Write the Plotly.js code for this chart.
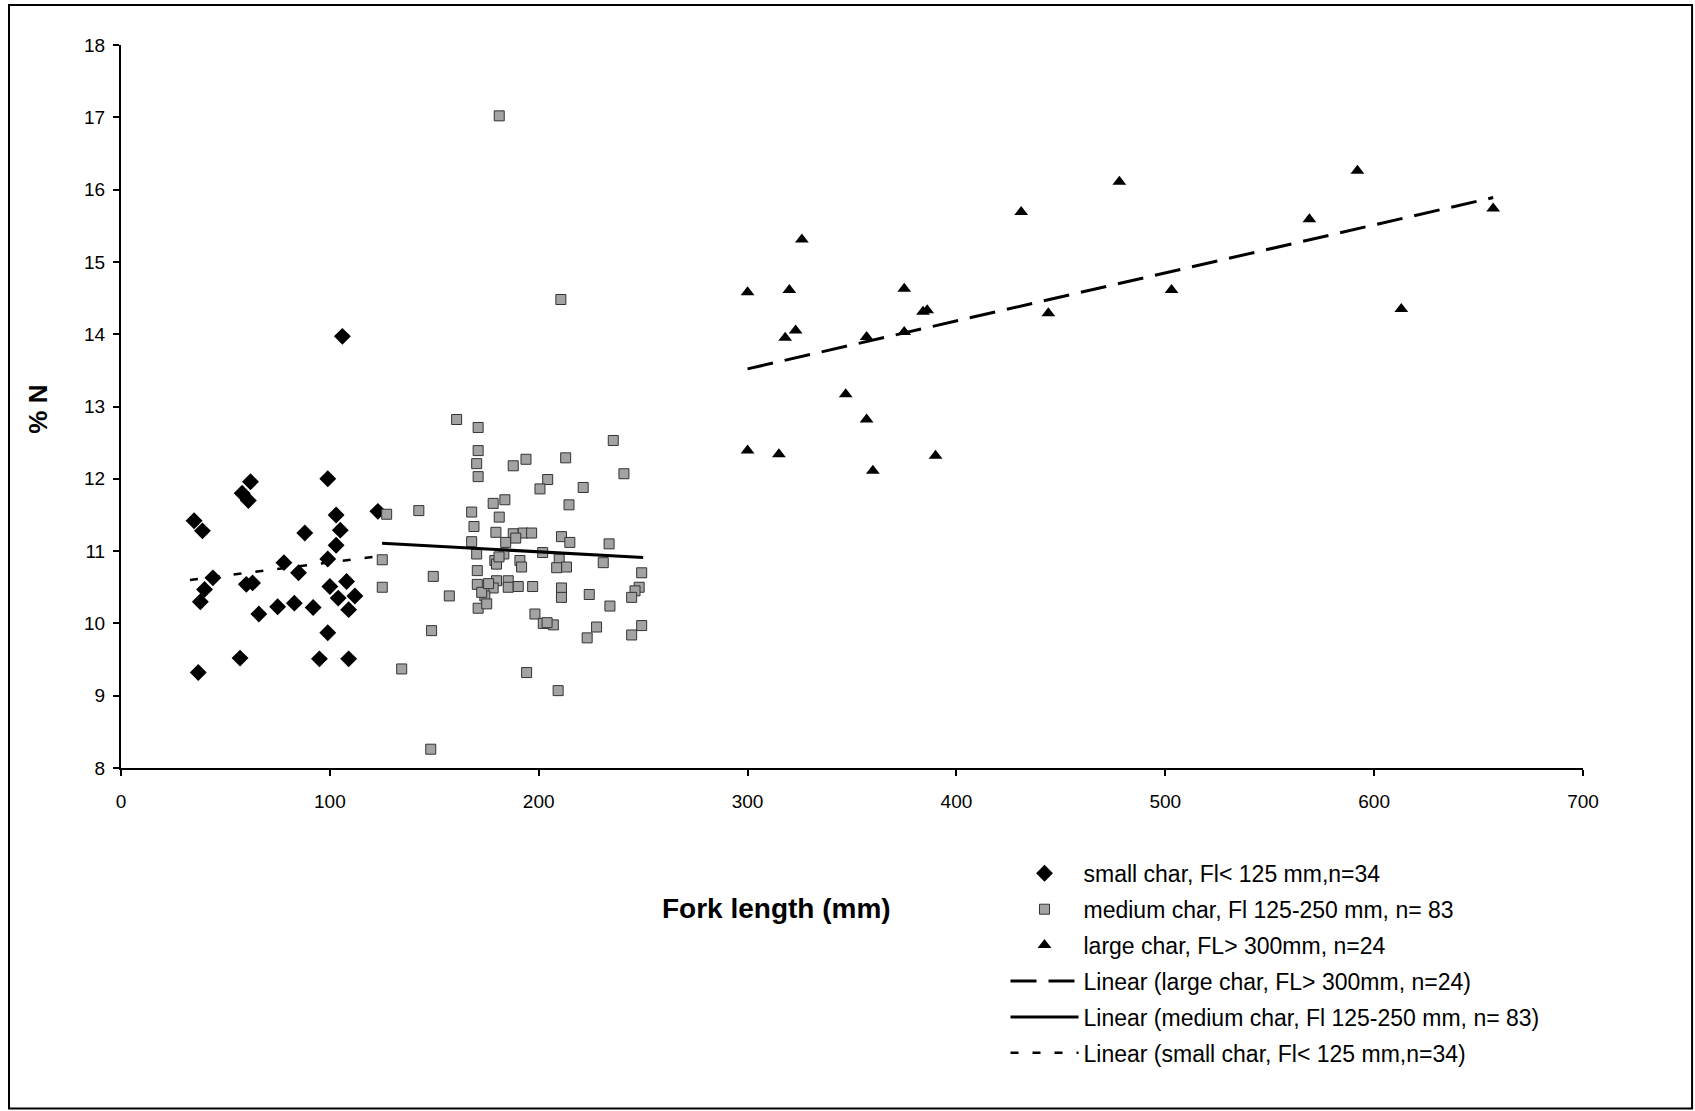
<!DOCTYPE html>
<html>
<head>
<meta charset="utf-8">
<script src="https://cdn.plot.ly/plotly-3.0.1.min.js"></script>
<style>
  html, body { margin: 0; padding: 0; background: #ffffff; }
  #chart { width: 1695px; height: 1111px; }
</style>
</head>
<body>
<div id="chart"></div>
<script>
// ---- Data ----
var smallX = [106, 99, 62, 58, 61, 35, 39, 103, 105, 103, 88, 123, 99, 78, 85, 44, 40, 38, 60, 63, 66, 75, 83, 92, 100, 104, 108, 112, 109, 99, 57, 95, 109, 37];
var smallY = [13.97, 12.0, 11.96, 11.80, 11.70, 11.42, 11.28, 11.50, 11.29, 11.08, 11.25, 11.55, 10.89, 10.84, 10.70, 10.63, 10.47, 10.30, 10.54, 10.56, 10.13, 10.23, 10.28, 10.22, 10.51, 10.35, 10.58, 10.38, 10.19, 9.87, 9.52, 9.51, 9.51, 9.32];

var mediumX = [160.7, 171.0, 235.7, 171.0, 170.3, 171.0, 187.8, 193.9, 212.9, 240.8,
               204.3, 200.6, 221.3, 178.2, 183.8, 214.5, 127.2, 142.6, 167.9, 181.1,
               169.0, 179.5, 187.8, 192.6, 196.6, 184.2, 167.9, 210.9, 214.9, 233.7,
               125.1, 170.3, 183.3, 201.9, 179.0, 191.0, 209.8, 230.9, 179.8, 191.8,
               213.3, 208.6, 249.3, 149.5, 170.6, 170.6, 179.8, 185.4, 178.2, 185.4,
               190.2, 197.1, 210.9, 210.9, 224.2, 248.1, 246.1, 244.5, 125.1, 157.2,
               174.2, 171.0, 175.1, 234.1, 198.2, 202.2, 207.0, 227.7, 223.2, 249.3,
               244.5, 148.7, 134.4, 194.2, 209.3, 148.3, 181.1, 210.6, 172.7, 189.0,
               204.0, 181.0, 176.0];
var mediumY = [12.82, 12.71, 12.53, 12.39, 12.21, 12.03, 12.18, 12.27, 12.29, 12.07,
               11.99, 11.86, 11.88, 11.66, 11.71, 11.64, 11.51, 11.56, 11.54, 11.47,
               11.34, 11.26, 11.24, 11.25, 11.25, 11.12, 11.13, 11.20, 11.12, 11.10,
               10.88, 10.96, 10.96, 10.98, 10.87, 10.87, 10.89, 10.84, 10.82, 10.78,
               10.78, 10.77, 10.70, 10.65, 10.73, 10.54, 10.59, 10.59, 10.49, 10.50,
               10.51, 10.51, 10.49, 10.36, 10.40, 10.50, 10.45, 10.36, 10.50, 10.38,
               10.38, 10.21, 10.27, 10.24, 10.13, 10.00, 9.98, 9.95, 9.80, 9.97,
               9.84, 9.90, 9.37, 9.32, 9.07, 8.26, 17.02, 14.48, 10.43, 11.18,
               10.01, 10.92, 10.55];

var largeX = [300, 320, 326, 375, 384, 386, 323, 318, 357, 375, 431, 478, 444, 503, 347, 357, 300, 315, 360, 390, 592, 569, 657, 613];
var largeY = [14.58, 14.61, 15.31, 14.63, 14.31, 14.33, 14.05, 13.95, 13.96, 14.03, 15.69, 16.11, 14.29, 14.61, 13.17, 12.82, 12.39, 12.34, 12.11, 12.32, 16.26, 15.59, 15.74, 14.35];

// Trend line end points as drawn in the picture
var largeFitX = [300, 657];
var largeFitY = [13.52, 15.89];
var mediumFitX = [125, 250];
var mediumFitY = [11.11, 10.91];
var smallFitX = [33, 124];
var smallFitY = [10.60, 10.93];

var seriesNames = [
  'small char, Fl< 125 mm,n=34',
  'medium char, Fl 125-250 mm, n= 83',
  'large char, FL> 300mm, n=24',
  'Linear (large char, FL> 300mm, n=24)',
  'Linear (medium char, Fl 125-250 mm, n= 83)',
  'Linear (small char, Fl< 125 mm,n=34)'
];

var xTicks = [0, 100, 200, 300, 400, 500, 600, 700];
var yTicks = [8, 9, 10, 11, 12, 13, 14, 15, 16, 17, 18];

// ---- Traces ----
var traces = [
  { x: smallX, y: smallY, name: seriesNames[0], legendgroup: 'g1', type: 'scatter', mode: 'markers',
    marker: { symbol: 'diamond', size: 13, color: '#000000' } },
  { x: mediumX, y: mediumY, name: seriesNames[1], legendgroup: 'g2', type: 'scatter', mode: 'markers',
    marker: { symbol: 'square', size: 10, color: '#a3a3a3', line: { color: '#333333', width: 1 } } },
  { x: largeX, y: largeY, name: seriesNames[2], legendgroup: 'g3', type: 'scatter', mode: 'markers',
    marker: { symbol: 'triangle-up', size: 12, color: '#000000' } },
  { x: largeFitX, y: largeFitY, name: seriesNames[3], legendgroup: 'g4', type: 'scatter', mode: 'lines',
    line: { color: '#000000', width: 3, dash: '26px,12px' } },
  { x: mediumFitX, y: mediumFitY, name: seriesNames[4], legendgroup: 'g5', type: 'scatter', mode: 'lines',
    line: { color: '#000000', width: 3 } },
  { x: smallFitX, y: smallFitY, name: seriesNames[5], legendgroup: 'g6', type: 'scatter', mode: 'lines',
    line: { color: '#000000', width: 2.5, dash: '8px,14px' } }
];

var fontFam = '"Liberation Sans", Arial, sans-serif';

var layout = {
  width: 1695, height: 1111, autosize: false,
  margin: { l: 121, r: 112, t: 45, b: 343, pad: 0 },
  paper_bgcolor: '#ffffff', plot_bgcolor: '#ffffff',
  font: { family: fontFam, color: '#000000', size: 19 },
  showlegend: true,
  xaxis: {
    range: [0, 700], tickvals: xTicks, ticktext: xTicks.map(String),
    showgrid: false, zeroline: false, showline: true, linecolor: '#000000', linewidth: 2,
    ticks: 'outside', ticklen: 6, tickwidth: 2, tickcolor: '#000000',
    tickfont: { family: fontFam, size: 19, color: '#000000' },
    ticklabelstandoff: 9, fixedrange: true
  },
  yaxis: {
    range: [8, 18], tickvals: yTicks, ticktext: yTicks.map(String),
    showgrid: false, zeroline: false, showline: true, linecolor: '#000000', linewidth: 2,
    ticks: 'outside', ticklen: 6, tickwidth: 2, tickcolor: '#000000',
    tickfont: { family: fontFam, size: 19, color: '#000000' },
    ticklabelstandoff: 4, fixedrange: true
  },
  legend: {
    x: 0.605, y: -0.116, xanchor: 'left', yanchor: 'top',
    bgcolor: 'rgba(0,0,0,0)', borderwidth: 0,
    font: { family: fontFam, size: 23, color: '#000000' },
    itemwidth: 68, tracegroupgap: 3, traceorder: 'grouped'
  },
  annotations: [
    { text: '<b>Fork length (mm)</b>', xref: 'paper', yref: 'paper',
      x: 0.4487, y: -0.1939, xanchor: 'center', yanchor: 'middle', showarrow: false,
      font: { family: fontFam, size: 28, color: '#000000' } },
    { text: '<b>% N</b>', xref: 'paper', yref: 'paper', textangle: -90,
      x: -0.0568, y: 0.497, xanchor: 'center', yanchor: 'middle', showarrow: false,
      font: { family: fontFam, size: 26, color: '#000000' } }
  ],
  shapes: [
    { type: 'rect', xref: 'paper', yref: 'paper',
      x0: -0.0766, x1: 1.0746, y0: -0.4709, y1: 1.0554,
      line: { color: '#000000', width: 2 }, fillcolor: 'rgba(0,0,0,0)', layer: 'below' }
  ]
};

Plotly.newPlot('chart', traces, layout, { displayModeBar: false, staticPlot: true });
</script>
</body>
</html>
